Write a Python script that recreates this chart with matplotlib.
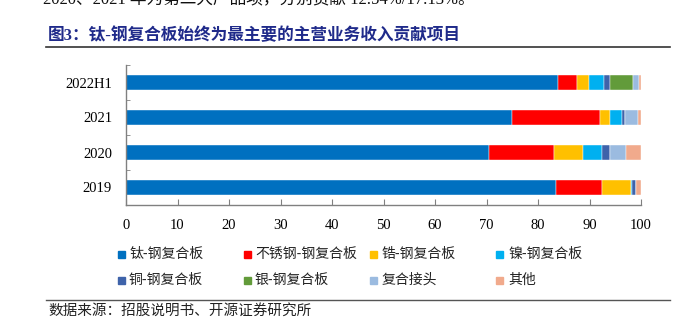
import numpy as np
import matplotlib.pyplot as plt
from matplotlib.lines import Line2D

# Fonts: serif for Latin digits, CJK fallback for Chinese
CJK = 'Noto Sans CJK SC'
plt.rcParams['font.family'] = ['Liberation Serif', CJK]

# Share of main business revenue by product (%)
periods = ['2019', '2020', '2021', '2022H1']
products = ['钛-钢复合板', '不锈钢-钢复合板', '锆-钢复合板', '镍-钢复合板',
            '铜-钢复合板', '银-钢复合板', '复合接头', '其他']
shares = {
    '钛-钢复合板':     [83.5, 70.5, 75.0, 83.9],
    '不锈钢-钢复合板': [8.9, 12.54, 17.13, 3.6],
    '锆-钢复合板':     [5.6, 5.7, 1.9, 2.4],
    '镍-钢复合板':     [0.3, 3.7, 2.3, 3.0],
    '铜-钢复合板':     [0.7, 1.6, 0.5, 1.1],
    '银-钢复合板':     [0.0, 0.0, 0.0, 4.5],
    '复合接头':        [0.1, 3.0, 2.6, 1.1],
    '其他':            [0.9, 3.0, 0.6, 0.4],
}
colors = ['#0070C0', '#FF0000', '#FFC000', '#00B0F0',
          '#3E63AA', '#629B3A', '#9BBBE0', '#F1AA8C']
xticks = [0, 10, 20, 30, 40, 50, 60, 70, 80, 90, 100]

W, H = 679, 327
fig = plt.figure(figsize=(W / 100, H / 100), dpi=100)

ax = fig.add_axes([126 / W, 1 - 205 / H, (641 - 126) / W, (205 - 65) / H])

y = np.arange(len(periods))
left = np.zeros(len(periods))
for name, c in zip(products, colors):
    vals = np.array(shares[name])
    ax.barh(y, vals, left=left, height=0.42, color=c,
            edgecolor='white', linewidth=0.3)
    left += vals

ax.set_xlim(0, 100)
ax.set_ylim(-0.5, len(periods) - 0.5)
ax.set_xticks(xticks)
ax.set_xticklabels([str(v) for v in xticks], fontsize=10.5)
ax.set_yticks(y)
ax.set_yticklabels(periods, fontsize=10.5)
ax.set_yticks(np.arange(-0.5, len(periods)), minor=True)
ax.tick_params(axis='y', which='major', length=0, pad=10)
ax.tick_params(axis='y', which='minor', direction='in', length=3, color='#808080')
ax.tick_params(axis='x', direction='in', length=4, color='#808080', pad=10)
for s in ['top', 'right']:
    ax.spines[s].set_visible(False)
for s in ['left', 'bottom']:
    ax.spines[s].set_color('#808080')
    ax.spines[s].set_linewidth(1.0)

# legend, two rows of four
col_x = [121, 247, 374, 500]
row_y = [254, 280]
for i, (name, c) in enumerate(zip(products, colors)):
    px = col_x[i % 4]
    py = row_y[i // 4]
    fig.patches.append(plt.Rectangle(((px - 3.5) / W, 1 - (py + 3.5) / H),
                                     7 / W, 7 / H, color=c,
                                     transform=fig.transFigure))
    fig.text((px + 8) / W, 1 - py / H, name, fontsize=10, family=[CJK],
             va='center', ha='left', color='#222222')

# cut-off sentence above the figure title
fig.text(43 / W, 1 - 0 / H, '2020、2021 年为第二大产品项，分别贡献 12.54%/17.13%。',
         fontsize=12, va='center', ha='left', color='#111111')

# figure title and rules
fig.text(48 / W, 1 - 36 / H, '图3：钛-钢复合板始终为最主要的主营业务收入贡献项目',
         fontsize=12, fontweight='bold', color='#1F2A8A', va='center', ha='left')
fig.add_artist(Line2D([46 / W, 670 / W], [1 - 47 / H, 1 - 47 / H],
                      color='#333333', linewidth=1.2, transform=fig.transFigure))
fig.add_artist(Line2D([46 / W, 670 / W], [1 - 300 / H, 1 - 300 / H],
                      color='#555555', linewidth=1.0, transform=fig.transFigure))
fig.text(48 / W, 1 - 311 / H, '数据来源：招股说明书、开源证券研究所',
         fontsize=10.5, family=[CJK], color='#222222', va='center', ha='left')

fig.savefig('out.png', dpi=100)
